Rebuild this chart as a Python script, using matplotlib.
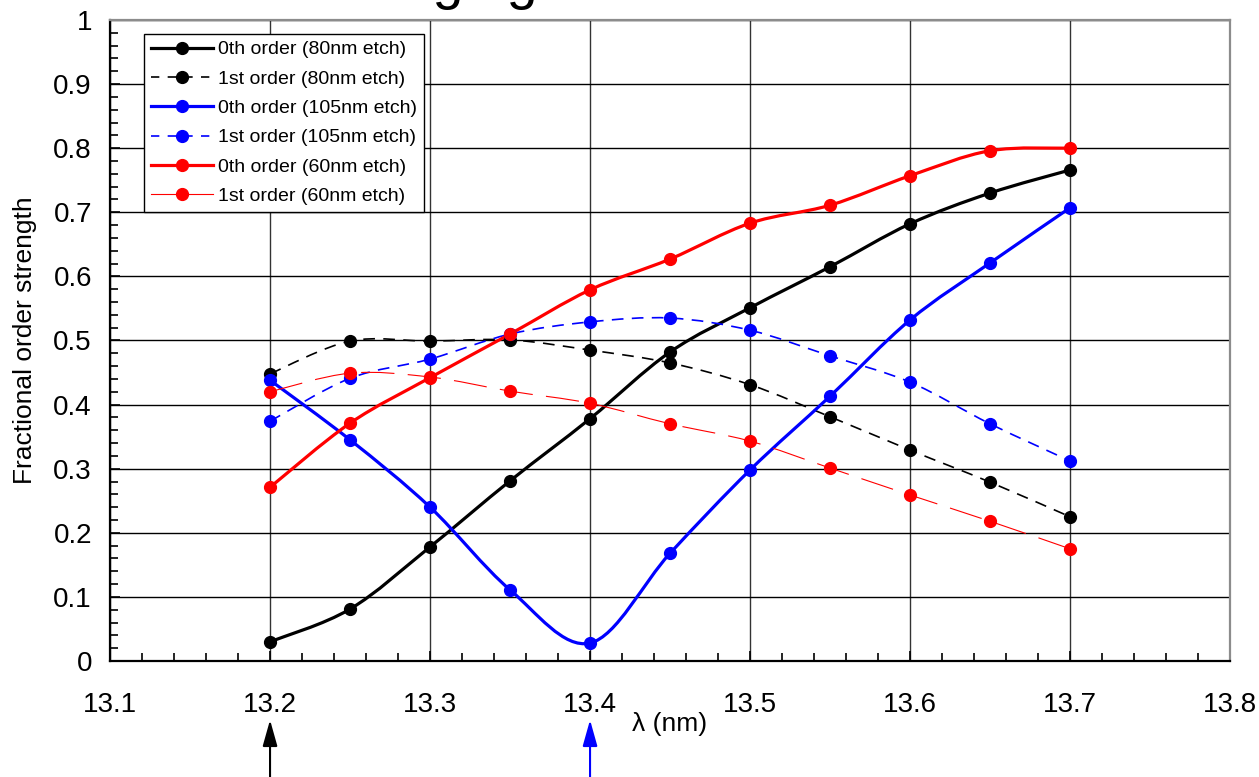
import numpy as np
import matplotlib
matplotlib.use("Agg")
from matplotlib import pyplot as plt
from matplotlib.path import Path
from matplotlib.patches import PathPatch
from matplotlib.lines import Line2D
from matplotlib.ticker import MultipleLocator

plt.rcParams['font.family'] = ['Liberation Sans', 'DejaVu Sans']

wavelength = [13.2, 13.25, 13.3, 13.35, 13.4, 13.45, 13.5, 13.55, 13.6, 13.65, 13.7]

zeroth_80 = [0.030, 0.081, 0.178, 0.281, 0.378, 0.482, 0.551, 0.615, 0.682, 0.730, 0.766]
first_80 = [0.448, 0.499, 0.499, 0.501, 0.485, 0.465, 0.431, 0.381, 0.329, 0.279, 0.225]
zeroth_105 = [0.438, 0.345, 0.240, 0.111, 0.028, 0.168, 0.298, 0.413, 0.532, 0.621, 0.707]
first_105 = [0.374, 0.441, 0.471, 0.510, 0.529, 0.535, 0.516, 0.476, 0.435, 0.370, 0.312]
zeroth_60 = [0.271, 0.371, 0.442, 0.510, 0.579, 0.627, 0.683, 0.711, 0.757, 0.796, 0.800]
first_60 = [0.420, 0.449, 0.443, 0.421, 0.402, 0.370, 0.343, 0.301, 0.259, 0.218, 0.175]

labels = ["0th order (80nm etch)",
          "1st order (80nm etch)",
          "0th order (105nm etch)",
          "1st order (105nm etch)",
          "0th order (60nm etch)",
          "1st order (60nm etch)"]

arrow_black = 13.2
arrow_blue = 13.4


def smooth_path(x, y):
    # Catmull-Rom segments drawn as cubic Bezier curves
    pts = np.column_stack([x, y])
    ext = np.vstack([pts[0], pts, pts[-1]])
    verts = [pts[0]]
    codes = [Path.MOVETO]
    for i in range(1, len(ext) - 2):
        p0, p1, p2, p3 = ext[i - 1], ext[i], ext[i + 1], ext[i + 2]
        verts += [p1 + (p2 - p0) / 6, p2 - (p3 - p1) / 6, p2]
        codes += [Path.CURVE4] * 3
    return Path(verts, codes)


styles = [
    (zeroth_80, 'black', 2.3, '-'),
    (first_80, 'black', 1.2, (0, (7, 5))),
    (zeroth_105, '#0000ff', 2.3, '-'),
    (first_105, '#0000ff', 1.2, (0, (7, 5))),
    (zeroth_60, '#ff0000', 2.3, '-'),
    (first_60, '#ff0000', 0.8, (0, (30, 12))),
]

fig = plt.figure(figsize=(12.59, 7.77), dpi=100)
ax = fig.add_axes([0.0874, 0.1493, 0.8896, 0.825])

handles = []
for (vals, col, lw, ls), lab in zip(styles, labels):
    ax.add_patch(PathPatch(smooth_path(wavelength, vals), facecolor='none',
                           edgecolor=col, lw=lw, linestyle=ls, zorder=3))
    ax.plot(wavelength, vals, linestyle='none', marker='o', color=col,
            markersize=8.5, zorder=4)
    handles.append(Line2D([], [], color=col, lw=lw,
                          linestyle=ls if ls == '-' else (0, (5, 5)) if lw > 1 else '-',
                          marker='o', markersize=8.5))

ax.set_xlim(13.1, 13.8)
ax.set_ylim(0, 1)
ax.xaxis.set_minor_locator(MultipleLocator(0.02))
ax.yaxis.set_minor_locator(MultipleLocator(0.02))
ax.set_xticks(np.arange(13.1, 13.81, 0.1))
ax.set_xticklabels(['13.1', '13.2', '13.3', '13.4', '13.5', '13.6', '13.7', '13.8'])
ax.set_yticks(np.arange(0, 1.01, 0.1))
ax.set_yticklabels(['0', '0.1', '0.2', '0.3', '0.4', '0.5', '0.6', '0.7', '0.8', '0.9', '1'])
ax.tick_params(axis='both', which='both', direction='in', labelsize=20, width=1.2)
ax.tick_params(axis='both', which='major', length=7)
ax.tick_params(axis='both', which='minor', length=6)
ax.tick_params(axis='x', pad=22)
ax.tick_params(axis='y', pad=13)

ax.grid(True, axis='y', color='black', lw=1.0, zorder=1)
ax.grid(True, axis='x', color='#333333', lw=1.0, zorder=1)
ax.set_axisbelow(True)

for s in ['left', 'bottom']:
    ax.spines[s].set_color('black')
    ax.spines[s].set_linewidth(1.6)
for s in ['top', 'right']:
    ax.spines[s].set_color('#8c8c8c')
    ax.spines[s].set_linewidth(1.6)

ax.set_ylabel("Fractional order strength", fontsize=19, labelpad=12)
ax.set_xlabel("\u03bb (nm)", fontsize=19)
ax.xaxis.set_label_coords(0.5, -0.08)

leg = ax.legend(handles, labels, loc='upper left', bbox_to_anchor=(0.0304, 0.978),
                borderaxespad=0, fontsize=14, handlelength=3.2, handletextpad=0.25,
                labelspacing=0.6, borderpad=0.35, fancybox=False, framealpha=1,
                edgecolor='black')
leg.get_frame().set_linewidth(1.0)
leg.set_zorder(5)

for xa, col in [(arrow_black, 'black'), (arrow_blue, '#0000ff')]:
    ax.annotate('', xy=(xa, -0.092), xycoords=('data', 'axes fraction'),
                xytext=(xa, -0.2), textcoords=('data', 'axes fraction'),
                arrowprops=dict(arrowstyle='-|>,head_length=1.6,head_width=0.45',
                                color=col, lw=1.5, shrinkA=0, shrinkB=0),
                annotation_clip=False)

# title sits mostly above the top edge in the original
fig.text(341 / 1259, 1 + 1.5 / 777, "Imaging", fontsize=40, va='baseline', ha='left')

fig.savefig("out.png", dpi=100)
